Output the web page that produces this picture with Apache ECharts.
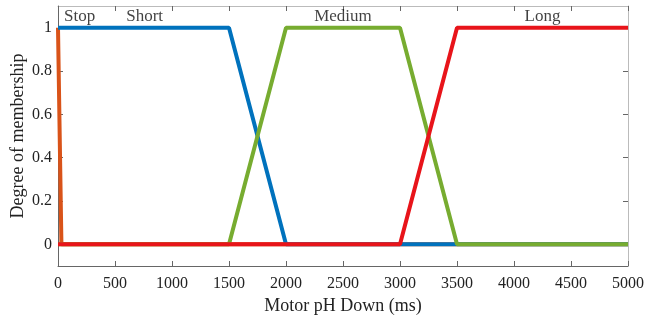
<!DOCTYPE html>
<html style="height: 100%">
<head>
	<meta charset="utf-8">
</head>
<body style="height: 100%; margin: 0; background: #fff">
<div id="container" style="width: 648px; height: 320px"></div>
<script src="https://cdn.jsdelivr.net/npm/echarts@6/dist/echarts.min.js"></script>
<script type="text/javascript">
	// membership functions: [ms, degree]
	var stopMf = [[0, 1], [30, 0], [5000, 0]];
	var shortMf = [[0, 1], [1500, 1], [2000, 0], [5000, 0]];
	var mediumMf = [[0, 0], [1500, 0], [2000, 1], [3000, 1], [3500, 0], [5000, 0]];
	var longMf = [[0, 0], [3000, 0], [3500, 1], [5000, 1]];

	var mfNames = ['Stop', 'Short', 'Medium', 'Long'];
	var labelPos = [[190, 1.05], [760, 1.05], [2500, 1.05], [4250, 1.05]];
	var yTicks = [0, 0.2, 0.4, 0.6, 0.8, 1];

	var font = 'Liberation Serif';
	var axisGray = '#666';
	var textColor = '#222';

	function lineSeries(data, color) {
		return {
			type: 'line',
			data: data,
			symbol: 'none',
			lineStyle: { color: color, width: 4 },
			animation: false
		};
	}

	var labelData = [];
	for (var i = 0; i < mfNames.length; i++) {
		labelData.push({ name: mfNames[i], value: labelPos[i] });
	}

	var myChart = echarts.init(document.getElementById('container'));
	var option = {
		backgroundColor: '#fff',
		grid: { left: 58, right: 20, top: 6, bottom: 54, outerBoundsMode: 'none' },
		xAxis: [
			{
				type: 'value', min: 0, max: 5000, interval: 500,
				name: 'Motor pH Down (ms)', nameLocation: 'middle', nameGap: 29,
				nameTextStyle: { fontFamily: font, fontSize: 18, color: textColor },
				axisLine: { onZero: false, lineStyle: { color: axisGray } },
				axisTick: { inside: true, length: 5, lineStyle: { color: axisGray } },
				axisLabel: {
					fontFamily: font, fontSize: 16, color: textColor, margin: 10,
					formatter: function (v) { return String(v); }
				},
				splitLine: { show: false }
			},
			{
				type: 'value', min: 0, max: 5000, interval: 500, position: 'top',
				axisLine: { show: true, onZero: false, lineStyle: { color: '#bbb' } },
				axisTick: { inside: true, length: 5, lineStyle: { color: axisGray } },
				axisLabel: { show: false },
				splitLine: { show: false }
			}
		],
		yAxis: [
			{
				type: 'value', min: -0.1, max: 1.1,
				name: 'Degree of membership', nameLocation: 'middle', nameGap: 31,
				nameMoveOverlap: false,
				nameTextStyle: { fontFamily: font, fontSize: 18, color: textColor },
				axisLine: { show: true, onZero: false, lineStyle: { color: axisGray } },
				axisTick: { show: true, inside: true, length: 5, customValues: yTicks, lineStyle: { color: axisGray } },
				axisLabel: { fontFamily: font, fontSize: 16, color: textColor, margin: 6, customValues: yTicks },
				splitLine: { show: false }
			},
			{
				type: 'value', min: -0.1, max: 1.1, position: 'right',
				axisLine: { show: true, onZero: false, lineStyle: { color: '#bbb' } },
				axisTick: { show: true, inside: true, length: 5, customValues: yTicks, lineStyle: { color: axisGray } },
				axisLabel: { show: false },
				splitLine: { show: false }
			}
		],
		series: [
			lineSeries(stopMf, '#D95319'),
			lineSeries(shortMf, '#0072BD'),
			lineSeries(mediumMf, '#77AC30'),
			lineSeries(longMf, '#E8141A'),
			{
				type: 'scatter',
				data: labelData,
				symbolSize: 0,
				silent: true,
				animation: false,
				label: {
					show: true, position: 'inside', formatter: '{b}',
					fontFamily: font, fontSize: 17, color: '#111'
				}
			}
		]
	};
	myChart.setOption(option);
</script>
</body>
</html>
